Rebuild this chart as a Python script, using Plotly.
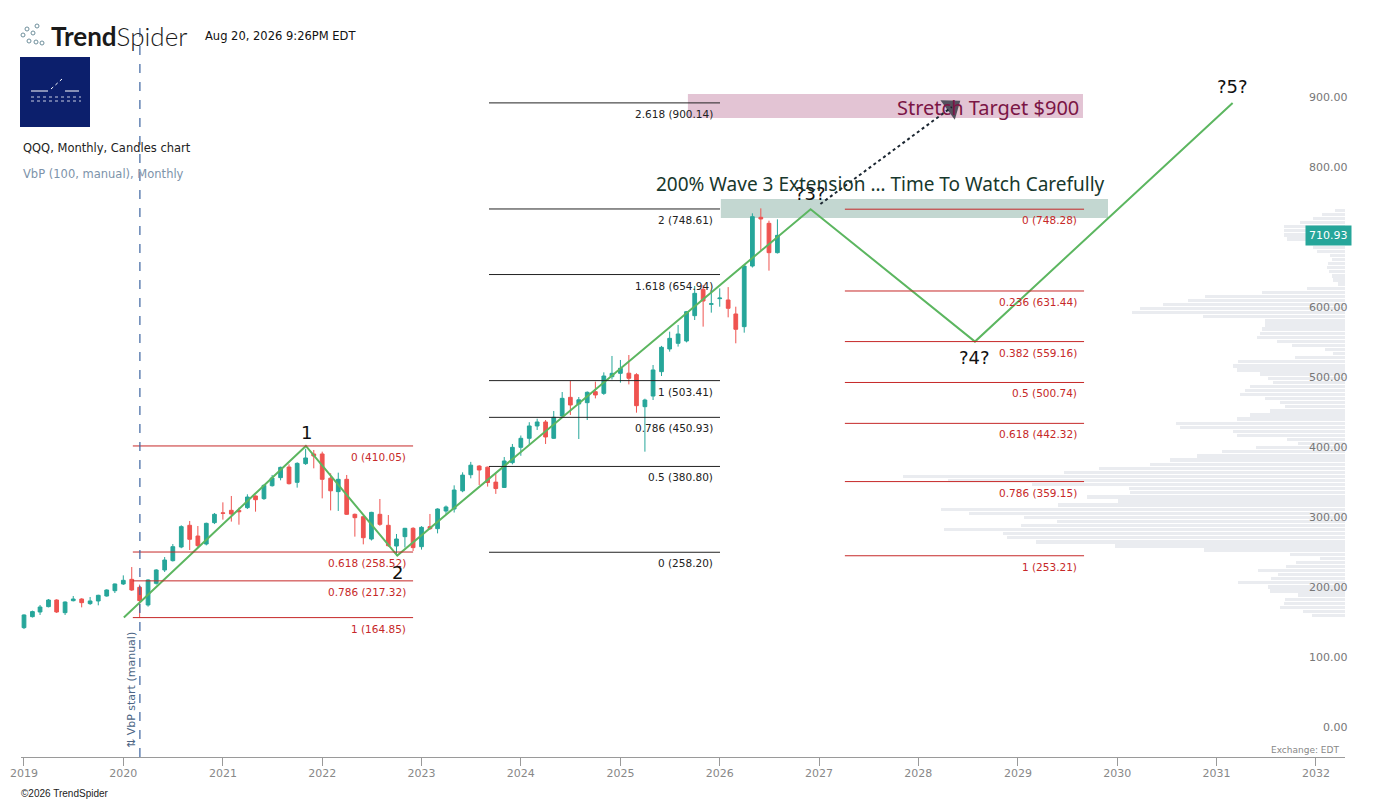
import pandas as pd
import plotly.graph_objects as go

# QQQ monthly candles
months = pd.date_range("2019-01-01", periods=92, freq="MS")
opens = [150.5, 166.2, 172.9, 180.5, 190.0, 171.9, 189.0, 191.4, 184.8, 188.6, 195.7, 203.3,
         212.9, 219.5, 208.1, 182.9, 213.8, 232.9, 246.2, 265.7, 296.7, 281.4, 270.0, 300.5,
         314.5, 318.1, 318.0, 321.9, 338.6, 334.8, 353.3, 364.8, 380.0, 358.1, 384.8, 398.6,
         398.6, 364.0, 344.8, 362.4, 312.4, 309.0, 277.1, 312.4, 296.7, 267.1, 280.5, 292.4,
         266.2, 294.8, 291.9, 317.1, 320.0, 346.0, 369.0, 381.4, 379.8, 358.4, 350.8, 386.2,
         408.1, 421.0, 438.6, 444.3, 421.0, 452.9, 479.5, 470.0, 471.9, 487.6, 485.2, 509.0,
         513.8, 514.0, 511.9, 466.2, 481.4, 516.2, 548.6, 556.7, 560.0, 596.2, 633.8, 612.4,
         620.5, 618.6, 598.6, 580.5, 667.1, 736.7, 728.1, 686.2]
highs = [169.5, 174.8, 182.9, 191.4, 191.0, 188.0, 195.7, 192.5, 194.3, 197.5, 205.2, 213.5,
         225.2, 237.1, 212.0, 219.5, 234.0, 251.4, 270.0, 296.7, 302.9, 295.7, 300.5, 314.3,
         329.5, 338.6, 321.9, 341.0, 339.5, 355.0, 368.6, 380.5, 383.8, 386.7, 406.0, 404.3,
         401.9, 371.0, 371.9, 368.6, 313.5, 310.0, 316.0, 334.3, 311.4, 284.3, 293.0, 294.0,
         295.5, 312.9, 321.0, 325.0, 353.8, 372.4, 387.3, 382.5, 380.5, 370.5, 394.3, 412.9,
         425.0, 444.0, 449.0, 447.1, 460.0, 487.1, 502.9, 480.0, 488.0, 502.0, 515.2, 538.6,
         532.9, 540.0, 514.0, 477.6, 525.7, 553.0, 573.3, 582.9, 602.9, 638.6, 640.0, 631.9,
         635.2, 637.0, 609.0, 668.0, 742.4, 749.5, 731.9, 733.8]
lows = [148.5, 165.0, 168.6, 179.5, 171.5, 168.6, 188.0, 179.5, 183.0, 182.4, 194.8, 200.0,
        211.5, 203.0, 164.8, 180.5, 212.0, 230.0, 245.0, 264.0, 261.4, 264.0, 268.0, 298.5,
        304.8, 302.0, 297.6, 320.0, 316.2, 333.0, 352.0, 361.0, 355.0, 350.5, 383.0, 378.1,
        335.2, 318.0, 317.2, 311.5, 280.5, 269.5, 275.0, 296.0, 266.0, 252.9, 265.0, 260.0,
        262.0, 290.0, 285.2, 313.0, 315.0, 344.0, 363.8, 354.3, 352.0, 341.6, 350.0, 383.8,
        396.0, 412.0, 432.9, 412.9, 420.0, 450.0, 454.3, 420.0, 447.1, 478.0, 483.0, 505.0,
        500.5, 498.0, 457.6, 401.9, 475.7, 510.0, 544.8, 552.0, 558.0, 590.0, 580.5, 600.5,
        609.0, 593.8, 556.7, 571.9, 665.0, 690.0, 660.5, 685.0]
closes = [168.6, 173.4, 180.0, 190.0, 172.9, 187.1, 191.4, 186.2, 188.6, 196.7, 204.3, 212.9,
          218.1, 204.3, 189.1, 218.6, 232.9, 247.1, 266.2, 294.8, 276.7, 267.6, 299.5, 312.4,
          313.8, 312.9, 316.0, 337.1, 333.3, 353.8, 364.3, 379.5, 356.2, 385.2, 392.9, 395.7,
          362.4, 346.0, 362.4, 312.4, 307.6, 279.0, 315.2, 298.1, 267.6, 277.1, 292.4, 264.8,
          293.8, 291.9, 320.0, 322.9, 347.1, 368.4, 382.6, 375.7, 357.8, 349.2, 388.6, 408.1,
          421.0, 438.6, 444.3, 422.9, 451.0, 478.1, 468.6, 476.0, 486.7, 482.9, 510.0, 513.8,
          521.0, 506.7, 467.6, 475.7, 518.6, 551.0, 563.8, 570.0, 601.9, 628.1, 617.1, 613.2,
          621.3, 606.7, 576.7, 667.1, 737.6, 734.3, 686.2, 710.93]

# volume by price, 100 rows from the Mar 2020 low to the high (relative volume)
vbp_low, vbp_high = 164.85, 749.5
vbp_volume = [33, 42, 65, 61, 60, 47, 75, 77, 107, 74, 67, 87, 59, 49, 25, 55, 141, 230, 309, 338,
              342, 401, 324, 288, 321, 376, 404, 287, 227, 258, 215, 216, 313, 397, 442, 281, 246, 195, 175, 148,
              123, 89, 47, 58, 108, 112, 165, 169, 108, 95, 75, 60, 65, 80, 105, 100, 95, 72, 77, 85,
              108, 112, 107, 50, 12, 20, 53, 68, 88, 85, 83, 80, 80, 142, 213, 205, 182, 157, 140, 83,
              38, 7, 12, 13, 16, 18, 17, 13, 15, 28, 32, 38, 58, 61, 61, 61, 45, 32, 23, 10]

# Elliott wave sketch
wave_dates = ["2020-01-03", "2021-11-02", "2022-10-04", "2026-12-01", "2028-07-27", "2031-03-01"]
wave_prices = [164.85, 410.05, 253.5, 748.28, 559.16, 900.14]
wave_labels = ["1", "2", "?3?", "?4?", "?5?"]
wave_label_dates = ["2021-11-06", "2022-10-03", "2026-12-02", "2028-07-26", "2031-03-02"]
wave_label_prices = [430, 230, 771.4, 537.1, 922.9]

# fibonacci drawings
fib_a_levels = ["0", "0.618", "0.786", "1"]
fib_a_prices = [410.05, 258.52, 217.32, 164.85]
fib_a_span = ["2020-02-05", "2022-12-01"]
fib_b_levels = ["2.618", "2", "1.618", "1", "0.786", "0.5", "0"]
fib_b_prices = [900.14, 748.61, 654.94, 503.41, 450.93, 380.80, 258.20]
fib_b_span = ["2023-09-06", "2026-01-02"]
fib_c_levels = ["0", "0.236", "0.382", "0.5", "0.618", "0.786", "1"]
fib_c_prices = [748.28, 631.44, 559.16, 500.74, 442.32, 359.15, 253.21]
fib_c_span = ["2027-04-06", "2029-09-01"]

year_ticks = list(range(2019, 2033))
price_ticks = list(range(0, 1000, 100))

RED = "#c62828"
BLACK = "#222222"
GREEN_UP = "#26a69a"
RED_DN = "#ef5350"
FONT = "DejaVu Sans"

fig = go.Figure()

# VbP histogram (drawn from the right edge)
step = (vbp_high - vbp_low) / len(vbp_volume)
vbp_centers = [vbp_low + step * (i + 0.5) for i in range(len(vbp_volume))]
fig.add_trace(go.Bar(
    y=vbp_centers, x=vbp_volume, orientation="h", xaxis="x2",
    width=step * 0.8, marker=dict(color="#eaecf0", line=dict(width=0)),
    hoverinfo="skip", showlegend=False,
))

fig.add_trace(go.Candlestick(
    x=months, open=opens, high=highs, low=lows, close=closes,
    increasing=dict(line=dict(color=GREEN_UP, width=1), fillcolor=GREEN_UP),
    decreasing=dict(line=dict(color=RED_DN, width=1), fillcolor=RED_DN),
    showlegend=False,
))

fig.add_trace(go.Scatter(
    x=wave_dates, y=wave_prices, mode="lines",
    line=dict(color="#5cb660", width=2), hoverinfo="skip", showlegend=False,
))

# dotted arrow to the stretch target
fig.add_trace(go.Scatter(
    x=["2027-01-06", "2028-05-03"], y=[755.7, 894.3], mode="lines+markers",
    line=dict(color="#1b2631", width=2, dash="dot"),
    marker=dict(symbol="triangle-up", size=[0, 21], color="#15202b", angleref="previous",
                line=dict(width=0)),
    hoverinfo="skip", showlegend=False,
))

shapes = []
# zones
shapes.append(dict(type="rect", xref="x", yref="y", x0="2025-09-06", x1="2029-08-28",
                   y0=878.6, y1=912.9, fillcolor="#e3c4d4", line=dict(width=0), layer="below"))
shapes.append(dict(type="rect", xref="x", yref="y", x0="2026-01-05", x1="2029-11-28",
                   y0=735.7, y1=762.9, fillcolor="#c3d7d1", line=dict(width=0), layer="below"))

annotations = []


def add_fib(levels, prices, span, color):
    for lvl, pr in zip(levels, prices):
        shapes.append(dict(type="line", xref="x", yref="y", x0=span[0], x1=span[1],
                           y0=pr, y1=pr, line=dict(color=color, width=1)))
        annotations.append(dict(x=span[1], y=pr, xref="x", yref="y", text=f"{lvl} ({pr:.2f})",
                                showarrow=False, xanchor="right", yanchor="top", xshift=-5, yshift=-3,
                                font=dict(family=FONT, size=10.5, color=color)))


add_fib(fib_a_levels, fib_a_prices, fib_a_span, RED)
add_fib(fib_b_levels, fib_b_prices, fib_b_span, BLACK)
add_fib(fib_c_levels, fib_c_prices, fib_c_span, RED)

# VbP start marker
shapes.append(dict(type="line", xref="x", yref="paper", x0="2020-03-02", x1="2020-03-02",
                   y0=0, y1=1, line=dict(color="#3c64a0", width=1.2, dash="dash")))
annotations.append(dict(x="2020-02-01", y=61, xref="x", yref="y", text="⇅ VbP start (manual)",
                        textangle=-90, showarrow=False, font=dict(family=FONT, size=11, color="#4b6584")))

for lab, d, p in zip(wave_labels, wave_label_dates, wave_label_prices):
    annotations.append(dict(x=d, y=p, xref="x", yref="y", text=lab, showarrow=False,
                            font=dict(family=FONT, size=18, color="#111111")))

annotations.append(dict(x="2029-08-20", y=894, xref="x", yref="y", text="Stretch Target $900",
                        showarrow=False, xanchor="right",
                        font=dict(family="Noto Sans", size=20, color="#7b1545")))
annotations.append(dict(x="2027-08-16", y=784.3, xref="x", yref="y",
                        text="200% Wave 3 Extension … Time To Watch Carefully", showarrow=False,
                        font=dict(family="Noto Sans", size=19, color="#17382d")))

# price scale labels (drawn slightly above their ticks, like the source)
for v in price_ticks:
    annotations.append(dict(x=(1350 - 21) / 1324, y=v, xref="paper", yref="y", text=f"{v:.2f}",
                            showarrow=False, xanchor="right", yanchor="middle", yshift=6,
                            font=dict(family=FONT, size=11, color="#777777")))

# header / footer (page coordinates -> paper)
PW, PH = 1324, 737


def px(xp, yp):
    return (xp - 21) / PW, (757 - yp) / PH


def page_text(x, y, text, size, color, anchor="left", family=FONT, **kw):
    xp, yp = px(x, y)
    annotations.append(dict(x=xp, y=yp, xref="paper", yref="paper", text=text, showarrow=False,
                            xanchor=anchor, yanchor="middle",
                            font=dict(family=family, size=size, color=color, **kw)))


page_text(49, 36, "<b>Trend</b>Spider", 26, "#1a1a1a", family="Lato", weight=300)
page_text(203, 36, "Aug 20, 2026 9:26PM EDT", 11.5, "#111111")
page_text(21, 148, "QQQ, Monthly, Candles chart", 11.5, "#222222")
page_text(21, 174, "VbP (100, manual), Monthly", 11.5, "#7d93aa")
page_text(19, 793, "©2026 TrendSpider", 10, "#222222", family="Liberation Sans")
page_text(1341, 750, "Exchange: EDT", 9, "#888888", anchor="right")

tx, _ = px(1328, 0)
annotations.append(dict(x=tx, y=closes[-1], xref="paper", yref="y", text=f"{closes[-1]:.2f}",
                        showarrow=False, bgcolor=GREEN_UP, borderpad=3, xanchor="center", yanchor="middle",
                        font=dict(family=FONT, size=11, color="white")))

# logo box and dots
bx0, by0 = px(20, 57)
bx1, by1 = px(90, 127)
shapes.append(dict(type="rect", xref="paper", yref="paper", x0=bx0, x1=bx1, y0=by1, y1=by0,
                   fillcolor="#0c1f6c", line=dict(width=0)))
for (a, b, c, d) in [(31, 91, 48, 91), (65, 91, 79, 91), (51, 89, 62, 79)]:
    x0, y0 = px(a, b)
    x1, y1 = px(c, d)
    shapes.append(dict(type="line", xref="paper", yref="paper", x0=x0, y0=y0, x1=x1, y1=y1,
                       line=dict(color="white", width=1, dash="dot" if a == 51 else "solid")))
for (a, b) in [(31, 97), (31, 101)]:
    x0, y0 = px(a, b)
    x1, y1 = px(a + 50, b)
    shapes.append(dict(type="line", xref="paper", yref="paper", x0=x0, y0=y0, x1=x1, y1=y1,
                       line=dict(color="#c8cde0", width=1, dash="dot")))
for (a, b) in [(23, 35), (27, 29), (33, 33), (37, 26), (29, 41), (36, 42), (42, 43)]:
    x0, y0 = px(a - 2, b - 2)
    x1, y1 = px(a + 2, b + 2)
    shapes.append(dict(type="circle", xref="paper", yref="paper", x0=x0, y0=y0, x1=x1, y1=y1,
                       line=dict(color="#6f8f9c", width=1)))

max_bar_frac = 442 / PW

# the page has an 8px body margin, so the figure is offset to fit inside it
fig.update_layout(
    width=1359, height=795,
    margin=dict(l=13, r=22, t=12, b=46, autoexpand=False),
    paper_bgcolor="white", plot_bgcolor="white",
    font=dict(family=FONT, color="#777777"),
    shapes=shapes, annotations=annotations,
    bargap=0,
    xaxis=dict(
        type="date", range=["2018-12-21", "2032-04-17"], automargin=False,
        tickvals=[f"{y}-01-01" for y in year_ticks], ticktext=[str(y) for y in year_ticks],
        showgrid=False, zeroline=False, showline=True, linecolor="#9a9a9a", linewidth=1,
        ticks="outside", ticklen=8, tickcolor="#9a9a9a", ticklabelstandoff=-2,
        tickfont=dict(family=FONT, size=11, color="#888888"),
        rangeslider=dict(visible=False),
    ),
    xaxis2=dict(overlaying="x", side="top", range=[max(vbp_volume) / max_bar_frac, 0],
                visible=False, showgrid=False),
    yaxis=dict(
        side="right", range=[-34.29, 1018.57], automargin=False,
        showticklabels=False, showgrid=False, zeroline=False, showline=False, ticks="",
    ),
)

fig.write_html("out.html")
